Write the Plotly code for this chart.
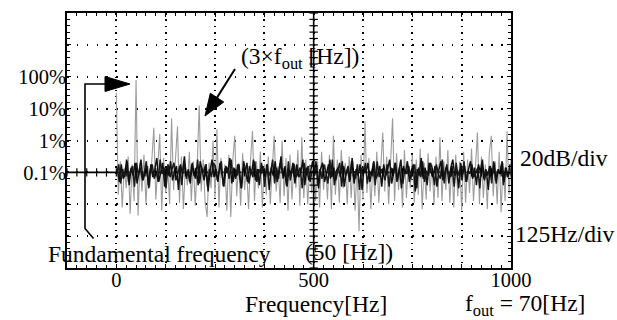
import plotly.graph_objects as go

# ---------------- data ----------------
# grey trace: spectrum samples every 5 Hz from 0 to 1000 Hz, in dB (0 dB = 100 %)
grey_db = [
    -10, -74, -53, -82, -57, -70, -50, -86, -55, -78,
    -2, -87, -54, -72, -49, -80, -56, -69, -52, -32,
    -77, -53, -36, -84, -51, -73, -55, -80, -26, -71,
    -54, -31, -79, -50, -83, -56, -68, -47, -78, -53,
    -81, -55, -18, -72, -52, -79, -88, -54, -70, -40,
    -76, -33, -82, -51, -69, -55, -84, -49, -88, -53,
    -37, -75, -54, -81, -48, -71, -56, -83, -52, -34,
    -78, -53, -70, -47, -82, -55, -74, -50, -80, -54,
    -37, -72, -56, -79, -40, -75, -51, -84, -49, -77,
    -54, -70, -46, -81, -38, -76, -52, -80, -55, -73,
    -50, -78, -53, -82, -47, -71, -55, -77, -49, -83,
    -37, -74, -52, -79, -46, -70, -54, -80, -50, -76,
    -53, -84, -55, -97, -49, -77, -28, -73, -51, -83,
    -54, -75, -47, -79, -52, -35, -72, -50, -80, -55,
    -26, -78, -48, -71, -53, -82, -46, -76, -55, -70,
    -49, -79, -52, -74, -45, -83, -54, -77, -48, -72,
    -55, -80, -50, -76, -38, -78, -53, -71, -46, -79,
    -54, -82, -49, -75, -53, -84, -47, -79, -52, -73,
    -45, -78, -54, -35, -80, -50, -76, -55, -83, -48,
    -37, -75, -53, -80, -47, -85, -54, -78, -34, -74,
    -52,
]
# black traces: dense noise floor samples, in dB
black_db = [
    -58, -66, -55, -64, -60, -53, -68, -57, -62, -54,
    -67, -59, -52, -65, -61, -56, -70, -55, -63, -58,
    -51, -66, -60, -54, -69, -57, -62, -53, -65, -59,
    -56, -71, -55, -61, -50, -64, -58, -67, -54, -62,
    -57, -68, -53, -60, -65, -55, -72, -59, -52, -63,
    -58, -66, -54, -61, -69, -56, -60, -51, -67, -57,
    -64, -55, -62, -70, -53, -59, -66, -56, -61, -52,
    -65, -58, -68, -54, -60, -63, -55, -71, -57, -62,
    -53, -66, -59, -50, -64, -56, -69, -58, -61, -54,
    -67, -55, -63, -60, -52, -68, -57, -65, -59, -53,
    -62, -56, -70, -58, -54, -66, -61, -55, -64, -52,
    -68, -59, -57, -63, -53, -69, -60, -56, -65, -51,
    -67, -58, -62, -55, -71, -57, -60, -54, -66, -59,
    -53, -64, -61, -56, -69, -55, -62, -58, -52, -67,
    -60, -54, -65, -57, -70, -56, -61, -53, -66, -59,
    -55, -72, -58, -62, -51, -64, -57, -68, -54, -60,
    -63, -56, -69, -58, -53, -65, -60, -55, -67, -57,
    -52, -62, -59, -70, -54, -61, -56, -66, -58, -53,
    -64, -57, -68, -55, -60, -52, -65, -59, -71, -56,
    -62, -54, -67, -58, -61, -53, -66, -57, -63, -55,
]
black2_db = [
    -61, -55, -67, -58, -63, -52, -66, -59, -56, -69,
    -54, -62, -57, -65, -60, -53, -68, -58, -55, -64,
    -59, -66, -52, -61, -57, -70, -55, -63, -58, -54,
    -65, -60, -56, -68, -53, -62, -59, -66, -55, -61,
    -64, -52, -67, -57, -60, -55, -69, -58, -63, -54,
    -56, -65, -59, -53, -68, -61, -57, -64, -52, -66,
    -58, -62, -55, -70, -57, -60, -54, -67, -59, -63,
    -53, -66, -58, -61, -56, -69, -55, -62, -60, -52,
    -67, -57, -64, -54, -61, -59, -68, -53, -65, -58,
    -55, -63, -60, -57, -70, -54, -62, -56, -66, -59,
    -61, -53, -68, -58, -64, -55, -60, -67, -52, -63,
    -57, -65, -59, -54, -69, -56, -62, -58, -66, -53,
    -60, -64, -55, -71, -57, -61, -54, -67, -59, -62,
    -56, -68, -53, -63, -58, -60, -65, -55, -69, -57,
    -62, -54, -66, -59, -52, -67, -58, -61, -56, -64,
    -60, -55, -70, -57, -63, -53, -66, -59, -62, -54,
    -58, -68, -55, -61, -64, -52, -67, -57, -60, -63,
    -56, -69, -54, -62, -58, -65, -53, -66, -59, -61,
    -55, -63, -60, -57, -70, -54, -64, -58, -62, -56,
    -67, -53, -65, -59, -61, -55, -68, -57, -63, -60,
]
grey_hz = [5 * i for i in range(len(grey_db))]
black_hz = [2.5 + 5 * i for i in range(len(black_db))]
black2_hz = [1 + 5 * i for i in range(len(black2_db))]

x_label_vals = [0, 500, 1000]
x_label_text = ["0", "500", "1000"]
y_label_vals = [-60, -40, -20, 0]
y_label_text = ["0.1%", "1%", "10%", "100%"]

# ---------------- layout geometry ----------------
W, H = 617, 320
L, R, T, B = 67, 511, 13, 268          # plot area in pixels
XR = [-125, 1000]
YR = [-120, 40]
XDIV, YDIV = 125, 20                   # 125 Hz/div, 20 dB/div
FONT = "Liberation Serif"


def dx(px):   # pixel -> data x
    return XR[0] + (px - L) / (R - L) * (XR[1] - XR[0])


def dy(py):   # pixel -> data y
    return YR[1] - (py - T) / (B - T) * (YR[1] - YR[0])


def plx(px):  # pixel -> paper x
    return (px - L) / (R - L)


def ply(py):  # pixel -> paper y
    return (B - py) / (B - T)


fig = go.Figure()
fig.add_trace(go.Scatter(x=grey_hz, y=grey_db, mode="lines",
                         line=dict(color="#9c9c9c", width=1.1),
                         hoverinfo="skip", showlegend=False))
fig.add_trace(go.Scatter(x=black2_hz, y=black2_db, mode="lines",
                         line=dict(color="#1a1a1a", width=1.5),
                         hoverinfo="skip", showlegend=False))
fig.add_trace(go.Scatter(x=black_hz, y=black_db, mode="lines",
                         line=dict(color="#111111", width=1.5),
                         hoverinfo="skip", showlegend=False))

# oscilloscope centre axes with small ticks
cy = [YR[0] + k * YDIV / 5 for k in range(int((YR[1] - YR[0]) / (YDIV / 5)) + 1)]
cx = [XR[0] + k * XDIV / 5 for k in range(int((XR[1] - XR[0]) / (XDIV / 5)) + 1)]
fig.add_trace(go.Scatter(x=[500] * len(cy), y=cy, mode="markers",
                         marker=dict(symbol="line-ew", size=6,
                                     line=dict(color="black", width=1.2)),
                         hoverinfo="skip", showlegend=False))
fig.add_trace(go.Scatter(x=cx, y=[-60] * len(cx), mode="markers",
                         marker=dict(symbol="line-ns", size=6,
                                     line=dict(color="black", width=1.2)),
                         hoverinfo="skip", showlegend=False))
# invisible trace carrying the labelled overlay axes
fig.add_trace(go.Scatter(x=[None], y=[None], xaxis="x2", yaxis="y2",
                         hoverinfo="skip", showlegend=False))

shapes = [
    dict(type="line", xref="x", yref="y", x0=500, x1=500, y0=YR[0], y1=YR[1],
         line=dict(color="black", width=1.6)),
    dict(type="line", xref="x", yref="y", x0=XR[0], x1=XR[1], y0=-60, y1=-60,
         line=dict(color="black", width=1.6), layer="below"),
    # fundamental frequency bracket
    dict(type="path", xref="x", yref="y",
         path=f"M {dx(93.5)},{dy(238.5)} L {dx(85)},{dy(228.5)} L {dx(85)},{dy(84)} L {dx(106)},{dy(84)}",
         line=dict(color="black", width=1.6)),
    dict(type="path", xref="x", yref="y",
         path=f"M {dx(105)},{dy(76.5)} L {dx(105)},{dy(91.5)} L {dx(130)},{dy(84)} Z",
         fillcolor="black", line=dict(color="black", width=1)),
    # 3 x fout arrow
    dict(type="path", xref="x", yref="y",
         path=f"M {dx(235)},{dy(69)} L {dx(217)},{dy(97.6)}",
         line=dict(color="black", width=2)),
    dict(type="path", xref="x", yref="y",
         path=f"M {dx(205)},{dy(116)} L {dx(223.7)},{dy(102)} L {dx(210.3)},{dy(93.2)} Z",
         fillcolor="black", line=dict(color="black", width=1)),
]

ann_font = dict(family=FONT, size=23.5, color="black")
annotations = [
    dict(text="Fundamental frequency", x=plx(47), y=ply(254)),
    dict(text="(50 [Hz])", x=plx(304), y=ply(252)),
    dict(text="(3×f<sub>out</sub> [Hz])", x=plx(240), y=ply(58)),
    dict(text="20dB/div", x=plx(519), y=ply(158)),
    dict(text="125Hz/div", x=plx(514), y=ply(234)),
    dict(text="Frequency[Hz]", x=plx(244), y=ply(304)),
    dict(text="f<sub>out</sub> = 70[Hz]", x=plx(464), y=ply(305)),
]
for a in annotations:
    a.update(xref="paper", yref="paper", xanchor="left", yanchor="middle",
             showarrow=False, font=ann_font, borderpad=0)

grid_common = dict(showline=True, linecolor="black", linewidth=2, mirror="allticks",
                   ticks="inside", ticklen=4, tickcolor="black", tickwidth=1,
                   zeroline=False, showgrid=True, gridcolor="black", gridwidth=1.5,
                   showticklabels=False, tickmode="linear")
label_common = dict(showline=False, showgrid=False, zeroline=False, ticks="",
                    tickmode="array",
                    tickfont=dict(family=FONT, size=20.5, color="black"))

fig.update_layout(
    width=W, height=H, autosize=False,
    margin=dict(l=L, r=W - R, t=T, b=H - B, pad=0),
    paper_bgcolor="white", plot_bgcolor="white",
    xaxis=dict(range=XR, tick0=XR[0], dtick=XDIV,
               griddash=f"1.5px,{(B - T) / 40 - 1.5:.3f}px",
               minor=dict(tickmode="linear", tick0=XR[0], dtick=XDIV / 5,
                          ticks="inside", ticklen=3, tickcolor="black",
                          showgrid=False),
               **grid_common),
    yaxis=dict(range=YR, tick0=YR[0], dtick=YDIV,
               griddash=f"1.5px,{(R - L) / 45 - 1.5:.3f}px",
               minor=dict(tickmode="linear", tick0=YR[0], dtick=YDIV / 5,
                          ticks="inside", ticklen=3, tickcolor="black",
                          showgrid=False),
               **grid_common),
    xaxis2=dict(range=XR, overlaying="x", anchor="y", side="bottom",
                tickvals=x_label_vals, ticktext=x_label_text,
                ticklabelstandoff=-3, **label_common),
    yaxis2=dict(range=YR, overlaying="y", anchor="x", side="left",
                tickvals=y_label_vals, ticktext=y_label_text,
                ticklabelstandoff=0, **label_common),
    shapes=shapes,
    annotations=annotations,
    showlegend=False,
)

fig.write_html("out.html")
